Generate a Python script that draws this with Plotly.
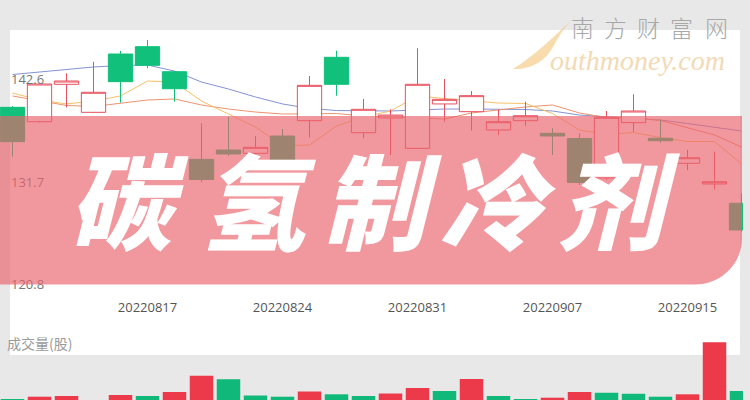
import plotly.graph_objects as go

W, H = 750, 400

# ---------------- data ----------------
dates = ["20220810", "20220811", "20220812", "20220815", "20220816", "20220817",
         "20220818", "20220819", "20220822", "20220823", "20220824", "20220825",
         "20220826", "20220829", "20220830", "20220831", "20220901", "20220902",
         "20220905", "20220906", "20220907", "20220908", "20220909", "20220913",
         "20220914", "20220915", "20220916", "20220919"]

open_ = [139.64, 138.11, 142.09, 139.11, 145.31, 146.09, 143.43, 134.11, 135.10, 134.75,
         136.59, 138.22, 144.96, 136.94, 138.51, 135.28, 140.00, 139.18, 137.23, 138.22,
         136.88, 136.33, 132.13, 138.01, 136.35, 133.69, 131.49, 129.44]
high = [139.78, 142.23, 143.26, 144.49, 145.63, 146.80, 143.50, 137.94, 138.64, 136.59,
        137.34, 142.97, 145.66, 140.53, 139.43, 145.92, 142.65, 141.38, 139.43, 140.24,
        137.41, 136.88, 139.25, 141.03, 138.37, 135.10, 134.92, 130.50]
low = [134.39, 138.03, 139.64, 139.04, 140.13, 143.79, 140.24, 131.70, 134.47, 134.57,
       133.30, 136.45, 140.88, 136.35, 134.57, 135.21, 138.11, 137.16, 136.70, 137.69,
       134.57, 131.38, 131.91, 137.05, 135.88, 132.98, 130.92, 126.42]
close = [135.99, 142.12, 142.44, 141.24, 142.37, 144.11, 141.62, 131.97, 134.68, 135.39,
         134.04, 141.98, 142.09, 139.43, 138.82, 142.09, 140.49, 140.88, 138.11, 138.75,
         136.59, 131.65, 138.58, 139.25, 136.09, 134.28, 131.73, 126.60]

ma5 = [141.16, 140.42, 140.00, 140.31, 140.85, 142.44, 142.33, 140.31, 138.93, 137.55,
       135.58, 135.63, 137.66, 138.61, 139.25, 140.85, 140.58, 140.37, 140.10, 140.05,
       138.98, 137.23, 136.75, 136.96, 136.43, 136.01, 136.01, 133.61]
ma10 = [140.85, 140.31, 139.84, 139.73, 140.05, 140.42, 140.53, 139.89, 139.46, 139.14,
        138.93, 138.93, 138.98, 138.72, 138.61, 138.45, 138.40, 139.04, 139.36, 139.68,
        139.89, 139.04, 138.56, 138.51, 138.24, 137.50, 136.70, 135.42]
ma20 = [143.13, 143.40, 143.66, 143.93, 144.09, 144.14, 143.50, 142.33, 141.59, 140.74,
        140.00, 139.52, 139.30, 139.25, 139.25, 139.36, 139.46, 139.46, 139.46, 139.41,
        139.25, 138.82, 138.64, 138.45, 138.29, 137.92, 137.55, 137.12]

volume = [31.0, 33.3, 34.0, 28.0, 35.0, 34.0, 38.0, 54.3, 50.7, 34.5,
          33.3, 38.5, 35.7, 34.0, 36.5, 42.0, 39.0, 51.0, 34.0, 31.0,
          32.3, 38.0, 37.3, 36.3, 33.3, 35.7, 87.7, 39.0]
volume_up = [0, 1, 1, 1, 1, 0, 1, 1, 0, 0, 0, 1, 0, 0, 1, 1, 0, 1, 0, 0,
             1, 1, 0, 0, 0, 1, 1, 0]

price_ticks = [142.6, 131.7, 120.8]
date_tick_idx = [5, 10, 15, 20, 25]

title_chars = ["碳", "氢", "制", "冷", "剂"]
brand_chars = ["南", "方", "财", "富", "网"]

# ---------------- styling ----------------
RED = "#ec3a4a"
GREEN = "#10c07b"


def px(x, y):
    return x / W, 1 - y / H


def P(x, y):
    a, b = px(x, y)
    return f"{a:.5f},{b:.5f}"


fig = go.Figure()

for vals, col in [(ma20, "#8493d2"), (ma10, "#ee9470"), (ma5, "#f6c165")]:
    fig.add_trace(go.Scatter(x=dates, y=vals, mode="lines",
                             line=dict(color=col, width=1),
                             xaxis="x", yaxis="y", hoverinfo="skip"))

fig.add_trace(go.Candlestick(
    x=dates, open=open_, high=high, low=low, close=close,
    xaxis="x", yaxis="y3", whiskerwidth=0,
    increasing=dict(line=dict(color="#e8505f", width=1), fillcolor="#ffffff"),
    decreasing=dict(line=dict(color=GREEN, width=1), fillcolor=GREEN),
))

fig.add_trace(go.Bar(
    x=dates, y=volume, width=0.87,
    marker=dict(color=[RED if u else "#10b979" for u in volume_up], line=dict(width=0)),
    xaxis="x2", yaxis="y2",
))

x_range = [-12.5 / 27, (743 - 12.5) / 27]
y_range = [119.365, 151.054]

fig.update_layout(
    width=W, height=H, autosize=False,
    margin=dict(l=0, r=0, t=0, b=0),
    paper_bgcolor="#e8e8e8", plot_bgcolor="rgba(0,0,0,0)",
    showlegend=False, boxgap=0.1, boxgroupgap=0,
    xaxis=dict(type="category", domain=[0, 743 / W], range=x_range, anchor="y",
               tickmode="array", tickvals=[dates[i] for i in date_tick_idx],
               ticks="", showgrid=False, zeroline=False, showline=False,
               tickfont=dict(family="Open Sans", size=13, color="#555555"),
               rangeslider=dict(visible=False)),
    yaxis=dict(domain=[0.255, 1], range=y_range, tickmode="array",
               tickvals=price_ticks, ticktext=[f"{v:.1f}" for v in price_ticks],
               ticklabelposition="inside", ticks="", ticklabelstandoff=8,
               showgrid=False, zeroline=False, showline=False,
               tickfont=dict(family="Open Sans", size=13, color="#777777")),
    yaxis3=dict(overlaying="y", range=y_range, visible=False),
    xaxis2=dict(type="category", domain=[0, 743 / W], range=x_range, anchor="y2",
                visible=False),
    yaxis2=dict(domain=[0, 0.25], range=[30, 130], visible=False),
)

shapes = []
# white panel
x0, y0 = px(10, 355)
x1, y1 = px(740, 30)
shapes.append(dict(type="rect", xref="paper", yref="paper", x0=x0, y0=y0, x1=x1, y1=y1,
                   fillcolor="#ffffff", line=dict(width=0), layer="below"))
# banner
banner = (f"M {P(0,116)} L {P(742,116)} L {P(742,238)} "
          f"C {P(742,264)} {P(721,284.5)} {P(695,284.5)} L {P(0,284.5)} Z")
shapes.append(dict(type="path", xref="paper", yref="paper", path=banner,
                   fillcolor="rgba(234,98,108,0.66)", line=dict(width=0), layer="above"))
# watermark swoosh
swoosh = (f"M {P(577,15)} C {P(560,30)} {P(540,52)} {P(513,69)} "
          f"C {P(532,70)} {P(546,60)} {P(553,47)} C {P(560,34)} {P(568,22)} {P(577,15)} Z")
shapes.append(dict(type="path", xref="paper", yref="paper", path=swoosh,
                   fillcolor="rgba(245,196,120,0.6)", line=dict(width=0), layer="above"))

annotations = []
for ch, cx in zip(title_chars, [128, 258, 382, 498, 619]):
    ax, ay = px(cx, 197)
    annotations.append(dict(x=ax, y=ay, xref="paper", yref="paper", text=ch, showarrow=False,
                            xanchor="center", yanchor="middle",
                            font=dict(family="Noto Sans CJK SC", size=104, color="#ffffff",
                                      weight=900, style="italic")))
for ch, cx in zip(brand_chars, [582, 615, 648, 681, 716]):
    ax, ay = px(cx, 27)
    annotations.append(dict(x=ax, y=ay, xref="paper", yref="paper", text=ch, showarrow=False,
                            xanchor="center", yanchor="middle",
                            font=dict(family="Noto Sans CJK SC", size=23, color="#a8a8a8",
                                      weight=300)))
ax, ay = px(548, 60)
annotations.append(dict(x=ax, y=ay, xref="paper", yref="paper", text="outhmoney.com",
                        showarrow=False, xanchor="left", yanchor="middle",
                        font=dict(family="Liberation Serif", size=28, color="#f3dab5",
                                  style="italic")))
ax, ay = px(5, 343)
annotations.append(dict(x=ax, y=ay, xref="paper", yref="paper", text="成交量(股)",
                        showarrow=False, xanchor="left", yanchor="middle",
                        font=dict(family="Noto Sans CJK SC", size=14, color="#9a9a9a")))

fig.update_layout(shapes=shapes, annotations=annotations)

fig.write_html(
    "out.html",
    config={"displayModeBar": False},
    post_script="document.body.style.margin='0px';document.body.style.overflow='hidden';",
)
